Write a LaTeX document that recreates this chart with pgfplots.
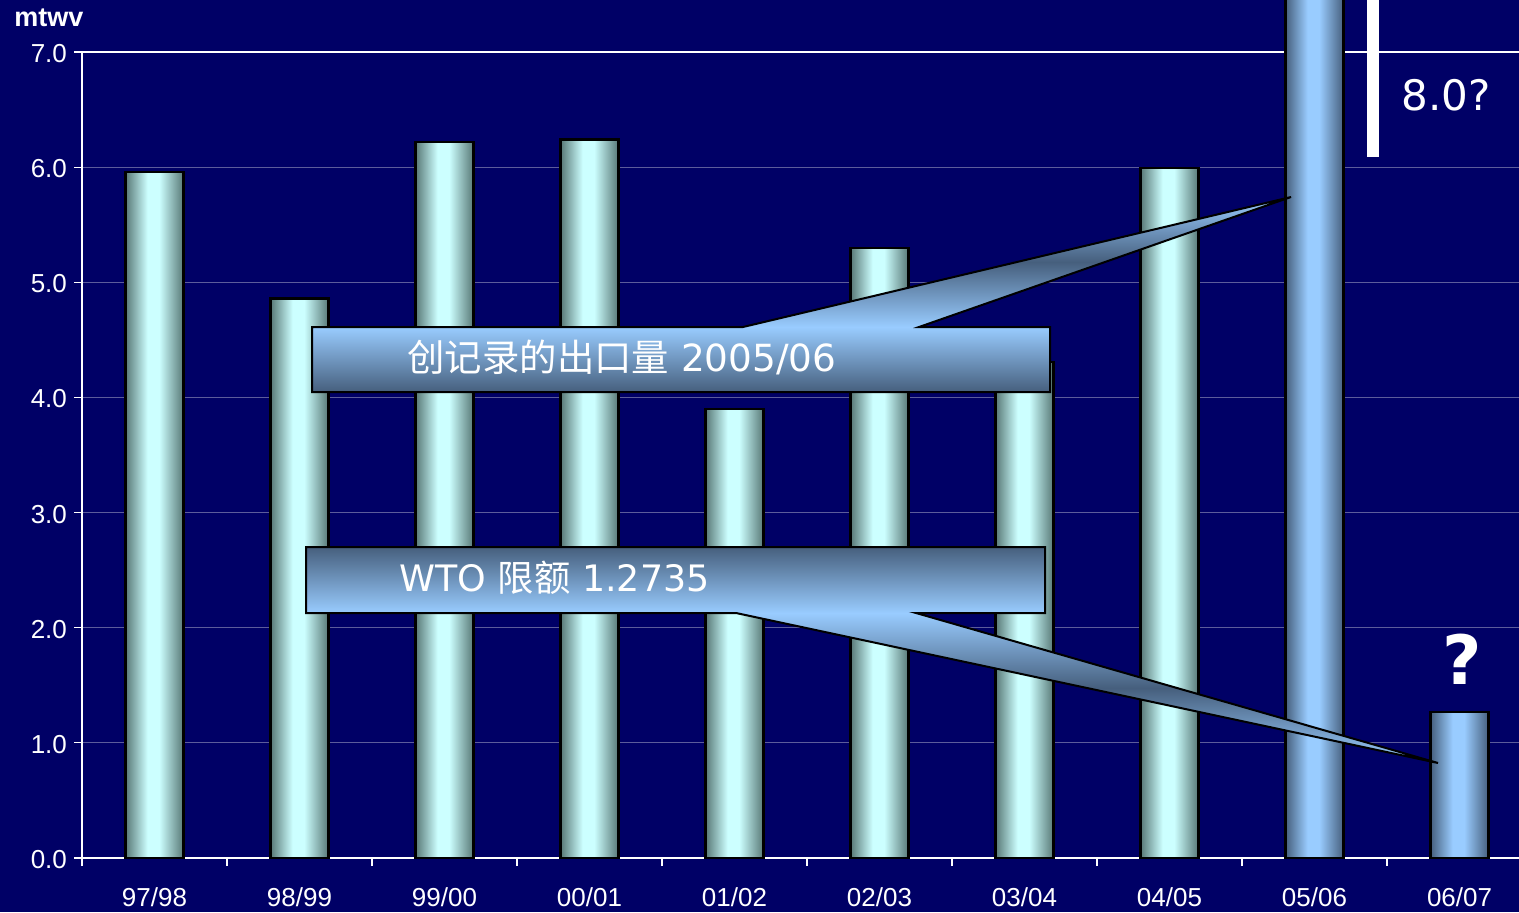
\documentclass[border=0pt]{standalone}
\usepackage{fontspec}
\setmainfont{Liberation Sans}
\newfontfamily\cjk{Noto Sans CJK SC}
\newfontfamily\dvs{DejaVu Sans}
\usepackage{pgfplots}
\pgfplotsset{compat=1.18}
\usetikzlibrary{calc,backgrounds}

\definecolor{bgnavy}{RGB}{0,0,102}
\definecolor{gridc}{RGB}{92,92,155}
\definecolor{tealL}{RGB}{204,255,255}
\definecolor{tealD}{RGB}{88,120,118}
\definecolor{blueL}{RGB}{153,204,255}
\definecolor{blueD}{RGB}{70,95,125}

% cylinder look: dark edges, broad light band slightly left of centre
\pgfdeclarehorizontalshading{tealcyl}{100bp}{color(0bp)=(tealD); color(25bp)=(tealD);
  color(44bp)=(tealL); color(54bp)=(tealL); color(75bp)=(tealD); color(100bp)=(tealD)}
\pgfdeclarehorizontalshading{bluecyl}{100bp}{color(0bp)=(blueD); color(25bp)=(blueD);
  color(44bp)=(blueL); color(54bp)=(blueL); color(75bp)=(blueD); color(100bp)=(blueD)}

\pgfplotsset{
  barbase/.style={ybar, bar width=29pt, bar shift=0pt, draw=black, line width=1.2pt},
  tealbar/.style={barbase, shading=tealcyl},
  bluebar/.style={barbase, shading=bluecyl},
}

\begin{document}
\begin{tikzpicture}
\begin{axis}[
  scale only axis, width=725pt, height=403pt,
  xmin=-0.5, xmax=9.5, ymin=0, ymax=7,
  clip=false,
  xtick={-0.5,0.5,1.5,2.5,3.5,4.5,5.5,6.5,7.5,8.5,9.5},
  x tick label as interval,
  xticklabels={97/98,98/99,99/00,00/01,01/02,02/03,03/04,04/05,05/06,06/07},
  ytick={0,1,2,3,4,5,6,7},
  yticklabels={0.0,1.0,2.0,3.0,4.0,5.0,6.0,7.0},
  xtick pos=bottom, ytick pos=left,
  tick align=outside, major tick length=4pt,
  tick style={white, line width=0.6pt},
  axis line style={white, line width=1pt},
  ymajorgrids, major grid style={gridc, line width=0.6pt},
  ticklabel style={white, font=\fontsize{13}{13}\selectfont},
  xticklabel style={yshift=-7.5pt},
  yticklabel style={yshift=-0.8pt},
  /pgf/number format/assume math mode=true,
]
% one plot per bar so each gets its own cylinder shading
\addplot[tealbar] coordinates {(0,5.96)};
\addplot[tealbar] coordinates {(1,4.86)};
\addplot[tealbar] coordinates {(2,6.22)};
\addplot[tealbar] coordinates {(3,6.24)};
\addplot[tealbar] coordinates {(4,3.90)};
\addplot[tealbar] coordinates {(5,5.30)};
\addplot[tealbar] coordinates {(6,4.31)};
\addplot[tealbar] coordinates {(7,5.99)};
\addplot[bluebar] coordinates {(8,8.0)};
\addplot[bluebar] coordinates {(9,1.27)};
\coordinate (O) at (axis cs:-0.5,0);
\end{axis}

% annotations in picture pixels (origin top left)
\begin{scope}[shift={($(O)+(-41pt,429pt)$)}, x=0.5pt, y=-0.5pt]
  % callout 1
  \shade[top color=blueL, bottom color=blueL, middle color=blueD]
    (743,327) -- (1291,197) -- (919,327) -- cycle;
  \shade[top color=blueL, bottom color=blueD] (312,327) rectangle (1050,392);
  \draw[black, line width=1pt, line join=miter]
    (312,327) -- (743,327) -- (1291,197) -- (919,327) -- (1050,327)
    -- (1050,392) -- (312,392) -- cycle;
  \node[anchor=west, inner sep=0, white] at (407,357)
    {\dvs\fontsize{18.7}{18.7}\selectfont{\cjk 创记录的出口量} 2005/06};
  % callout 2
  \shade[top color=blueL, bottom color=blueL, middle color=blueD]
    (736,613) -- (1438,763) -- (916,613) -- cycle;
  \shade[top color=blueD, bottom color=blueL] (306,547) rectangle (1045,613);
  \draw[black, line width=1pt, line join=miter]
    (306,547) -- (1045,547) -- (1045,613) -- (916,613) -- (1438,763)
    -- (736,613) -- (306,613) -- cycle;
  \node[anchor=west, inner sep=0, white] at (399,578)
    {\dvs\fontsize{18.2}{18.2}\selectfont WTO {\cjk 限额} 1.2735};
  % 8.0? marker
  \fill[white] (1367,0) rectangle (1379,157);
  \node[white, inner sep=0] at (1446,95) {\dvs\fontsize{21}{21}\selectfont 8.0?};
  \node[white, inner sep=0] at (1462,659) {\dvs\bfseries\fontsize{34}{34}\selectfont ?};
  % unit
  \node[anchor=base west, inner sep=0, white] at (14,27)
    {\bfseries\fontsize{13.5}{13.5}\selectfont mtwv};
  \begin{scope}[on background layer]
    \fill[bgnavy] (0,0) rectangle (1519,912);
  \end{scope}
  \pgfresetboundingbox
  \path[use as bounding box] (0,0) rectangle (1519,912);
\end{scope}
\end{tikzpicture}
\end{document}
